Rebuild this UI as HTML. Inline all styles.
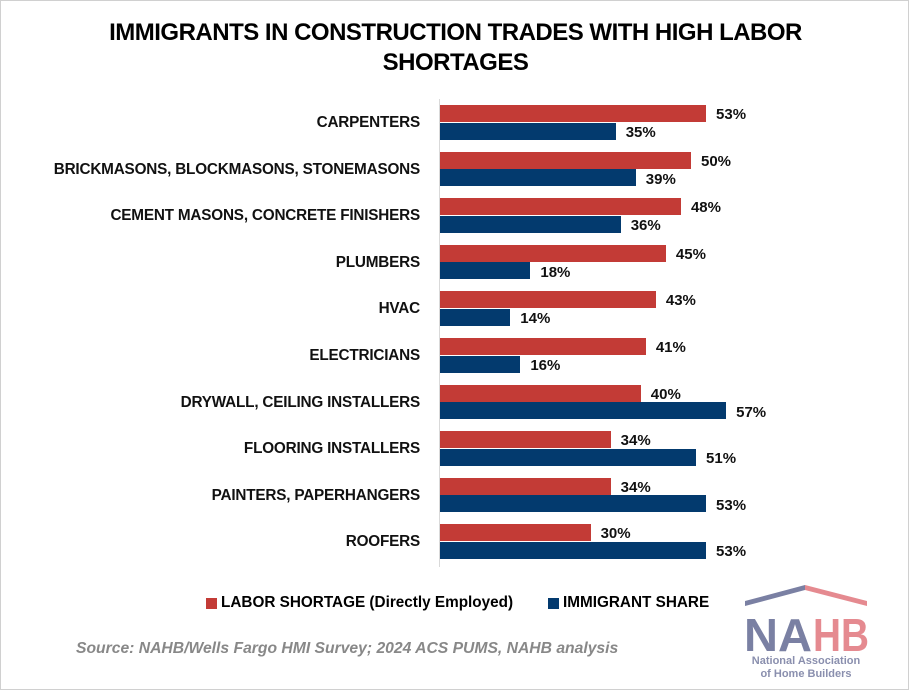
<!DOCTYPE html>
<html><head><style>
body{margin:0;background:#fff;}
#c{position:relative;width:907px;height:688px;border:1px solid #d0d0d0;overflow:hidden;font-family:"Liberation Sans",sans-serif;}
.t{position:absolute;left:0;width:909px;text-align:center;font-weight:bold;font-size:24px;color:#000;letter-spacing:-0.5px}
.lb{position:absolute;right:488px;font-weight:bold;font-size:15.3px;color:#111;white-space:nowrap;letter-spacing:-0.2px}
.b{position:absolute;left:439px;height:17px}
.r{background:#c33b36}.bl{background:#033a6e}
.v{position:absolute;font-weight:bold;font-size:15px;color:#111}
</style></head><body><div id="c">
<div class="t" style="top:18px">IMMIGRANTS IN CONSTRUCTION TRADES WITH HIGH LABOR</div>
<div class="t" style="top:48px">SHORTAGES</div>
<div style="position:absolute;left:438px;top:98px;width:1px;height:468px;background:#d9d9d9"></div>
<div id="rows"></div>
<div style="position:absolute;left:205px;top:597px;width:11px;height:11px;background:#c33b36"></div>
<div style="position:absolute;left:220px;top:593px;font-weight:bold;font-size:15.3px">LABOR SHORTAGE (Directly Employed)</div>
<div style="position:absolute;left:547px;top:597px;width:11px;height:11px;background:#033a6e"></div>
<div style="position:absolute;left:562px;top:593px;font-weight:bold;font-size:15.3px">IMMIGRANT SHARE</div>
<div style="position:absolute;left:75px;top:639px;font-style:italic;font-weight:bold;font-size:15.7px;color:#888">Source: NAHB/Wells Fargo HMI Survey; 2024 ACS PUMS, NAHB analysis</div>
<svg style="position:absolute;left:740px;top:578px" width="150" height="105">
<polygon points="4,22 64,6 64,11 4,27" fill="#7a80a3"/>
<polygon points="64,6 126,22 126,27 64,11" fill="#e58a90"/>
<text x="3" y="72" font-family="Liberation Sans" font-weight="bold" font-size="46" fill="#7a80a3" textLength="68" lengthAdjust="spacingAndGlyphs">NA</text>
<text x="72" y="72" font-family="Liberation Sans" font-weight="bold" font-size="46" fill="#e58a90" textLength="56" lengthAdjust="spacingAndGlyphs">HB</text>
<text x="65" y="85" text-anchor="middle" font-family="Liberation Sans" font-weight="bold" font-size="11" fill="#8a8fae">National Association</text>
<text x="65" y="98" text-anchor="middle" font-family="Liberation Sans" font-weight="bold" font-size="11" fill="#8a8fae">of Home Builders</text>
</svg>
</div>
<script>
var d=[["CARPENTERS",53,35],["BRICKMASONS, BLOCKMASONS, STONEMASONS",50,39],["CEMENT MASONS, CONCRETE FINISHERS",48,36],["PLUMBERS",45,18],["HVAC",43,14],["ELECTRICIANS",41,16],["DRYWALL, CEILING INSTALLERS",40,57],["FLOORING INSTALLERS",34,51],["PAINTERS, PAPERHANGERS",34,53],["ROOFERS",30,53]];
var h="",k=5.02;
d.forEach(function(r,i){var y=104+i*46.6;
h+='<div class="lb" style="top:'+(y+9)+'px">'+r[0]+'</div>';
h+='<div class="b r" style="top:'+y+'px;width:'+r[1]*k+'px"></div>';
h+='<div class="b bl" style="top:'+(y+17.5)+'px;width:'+r[2]*k+'px"></div>';
h+='<div class="v" style="top:'+(y+1)+'px;left:'+(439+r[1]*k+10)+'px">'+r[1]+'%</div>';
h+='<div class="v" style="top:'+(y+19)+'px;left:'+(439+r[2]*k+10)+'px">'+r[2]+'%</div>';});
document.getElementById("rows").innerHTML=h;
</script>
</body></html>
